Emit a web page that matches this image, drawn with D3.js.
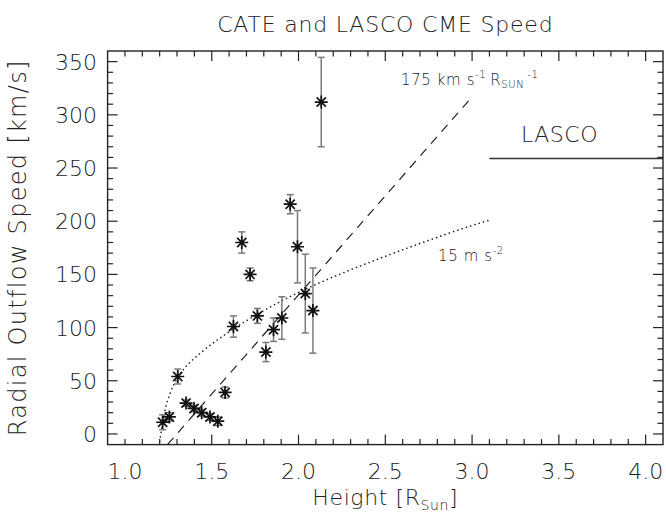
<!DOCTYPE html>
<html><head><meta charset="utf-8">
<script src="https://cdn.jsdelivr.net/npm/d3@7"></script>
<style>
body{margin:0;background:#fff}
text{font-family:"DejaVu Sans",sans-serif;font-weight:200;fill:#222}
</style>
</head><body>
<svg id="chart" width="666" height="519"></svg>
<script>
// CATE measurements
const heights = [1.217,1.256,1.304,1.352,1.398,1.442,1.490,1.535,1.577,1.625,1.673,1.721,1.763,1.812,1.856,1.904,1.952,1.994,2.039,2.083,2.131];
const speeds  = [11,16,54,29,24,20,16,12,39,101,180,150,111,77,98,109,216,176,132,116,312];
const errors  = [7,4,7,3,3,3,3,4,5,10,10,6,7,9,11,20,9,34,37,40,42];
// 15 m s^-2 acceleration curve (dotted)
const accHeights = [1.20,1.23,1.26,1.30,1.35,1.45,1.60,1.80,2.00,2.25,2.50,2.75,3.00,3.10];
const accSpeeds  = [-7,22,38,52,63,78,96,116,133,151,167,182,196,201];
// 175 km/s/Rsun linear fit (dashed)
const fitHeights = [1.245,3.0];
const fitSpeeds  = [-10,317];
// LASCO speed
const lascoHeights = [3.1,4.1];
const lascoSpeeds  = [259,259];
// axis ticks
const xTickLabels = ["1.0","1.5","2.0","2.5","3.0","3.5","4.0"];
const yTickLabels = ["0","50","100","150","200","250","300","350"];

const svg = d3.select("#chart");
svg.append("rect").attr("width",666).attr("height",519).attr("fill","#fff");

const x = d3.scaleLinear().domain([0.9,4.1]).range([107.6,663]);
const y = d3.scaleLinear().domain([-10,360]).range([444.6,51]);
const [x0,x1] = x.range(), [y0,y1] = y.range();

const axisColor = "#222";
svg.append("clipPath").attr("id","clip").append("rect")
  .attr("x",x0).attr("y",y1).attr("width",x1-x0).attr("height",y0-y1);

// frame
svg.append("rect").attr("x",x0).attr("y",y1).attr("width",x1-x0).attr("height",y0-y1)
  .attr("fill","none").attr("stroke",axisColor).attr("stroke-width",1.4);

// x ticks
const xMinor = d3.range(10,41).map(d=>d/10);
const xMajorVals = xTickLabels.map(Number).filter(v=>v!==1.0);
const g = svg.append("g").attr("stroke",axisColor).attr("stroke-width",1.2);
xMinor.forEach(v=>{
  const len = xMajorVals.some(m=>Math.abs(m-v)<1e-6) ? 10 : 5.5;
  g.append("line").attr("x1",x(v)).attr("x2",x(v)).attr("y1",y0).attr("y2",y0-len);
  g.append("line").attr("x1",x(v)).attr("x2",x(v)).attr("y1",y1).attr("y2",y1+len);
});
// y ticks
const yMinor = d3.range(0,36).map(d=>d*10);
yMinor.forEach(v=>{
  const len = v%50===0 ? 10 : 5.5;
  g.append("line").attr("x1",x0).attr("x2",x0+len).attr("y1",y(v)).attr("y2",y(v));
  g.append("line").attr("x1",x1).attr("x2",x1-len).attr("y1",y(v)).attr("y2",y(v));
});

// tick labels
svg.selectAll(".xl").data(xTickLabels).enter().append("text")
  .attr("x",d=>x(+d)).attr("y",479).attr("text-anchor","middle")
  .attr("font-size",22).text(d=>d);
svg.selectAll(".yl").data(yTickLabels).enter().append("text")
  .attr("x",97).attr("y",d=>y(+d)+8).attr("text-anchor","end")
  .attr("font-size",22).text(d=>d);

// titles
svg.append("text").attr("x",(x0+x1)/2).attr("y",32).attr("text-anchor","middle")
  .attr("font-size",22).attr("letter-spacing",0.8).text("CATE and LASCO CME Speed");
const xl = svg.append("text").attr("x",(x0+x1)/2).attr("y",505).attr("text-anchor","middle")
  .attr("font-size",22).attr("letter-spacing",0.6);
xl.append("tspan").text("Height [R");
xl.append("tspan").attr("font-size",14).attr("dy",5).text("Sun");
xl.append("tspan").attr("dy",-5).text("]");
svg.append("text").attr("transform",`translate(26,${(y0+y1)/2}) rotate(-90)`)
  .attr("text-anchor","middle").attr("font-size",24).attr("letter-spacing",1.3)
  .text("Radial Outflow Speed [km/s]");

// lines
const line = d3.line().x(d=>x(d[0])).y(d=>y(d[1]));
const plot = svg.append("g").attr("clip-path","url(#clip)");
plot.append("path").datum(d3.zip(fitHeights,fitSpeeds)).attr("d",line)
  .attr("fill","none").attr("stroke","#222").attr("stroke-width",1.2).attr("stroke-dasharray","9,7");
plot.append("path").datum(d3.zip(accHeights,accSpeeds))
  .attr("d",d3.line().x(d=>x(d[0])).y(d=>y(d[1])).curve(d3.curveMonotoneX))
  .attr("fill","none").attr("stroke","#222").attr("stroke-width",1.6)
  .attr("stroke-dasharray","0.1,4.4").attr("stroke-linecap","round");
svg.append("path").datum(d3.zip(lascoHeights,lascoSpeeds)).attr("d",line)
  .attr("fill","none").attr("stroke","#333").attr("stroke-width",1.4);

// error bars
const pts = heights.map((h,i)=>({h,v:speeds[i],e:errors[i]}));
const eb = svg.append("g").attr("stroke","#7a7a7a").attr("stroke-width",1.5);
pts.forEach(p=>{
  eb.append("line").attr("x1",x(p.h)).attr("x2",x(p.h)).attr("y1",y(p.v-p.e)).attr("y2",y(p.v+p.e));
  [p.v-p.e,p.v+p.e].forEach(v=>eb.append("line").attr("x1",x(p.h)-3.5).attr("x2",x(p.h)+3.5).attr("y1",y(v)).attr("y2",y(v)));
});
// asterisks
const st = svg.append("g").attr("stroke","#111").attr("stroke-width",1.7);
pts.forEach(p=>{
  const cx=x(p.h), cy=y(p.v), r=6.5, d=4.6;
  st.append("path").attr("d",`M${cx-r},${cy}H${cx+r}M${cx},${cy-r}V${cy+r}M${cx-d},${cy-d}L${cx+d},${cy+d}M${cx-d},${cy+d}L${cx+d},${cy-d}`);
});

// annotations
const a1 = svg.append("text").attr("x",401).attr("y",85).attr("font-size",15).attr("letter-spacing",0.6);
a1.append("tspan").text("175 km s");
a1.append("tspan").attr("font-size",10).attr("dy",-7).text("-1");
a1.append("tspan").attr("dy",7).attr("dx",4).text("R");
a1.append("tspan").attr("font-size",10).attr("dy",3).text("SUN");
a1.append("tspan").attr("font-size",10).attr("dy",-10).attr("dx",3).text("-1");
const a2 = svg.append("text").attr("x",438).attr("y",261).attr("font-size",15).attr("letter-spacing",0.6);
a2.append("tspan").text("15 m s");
a2.append("tspan").attr("font-size",10).attr("dy",-7).text("-2");
svg.append("text").attr("x",521).attr("y",142).attr("font-size",22).attr("letter-spacing",0.5).text("LASCO");
</script>
</body></html>
